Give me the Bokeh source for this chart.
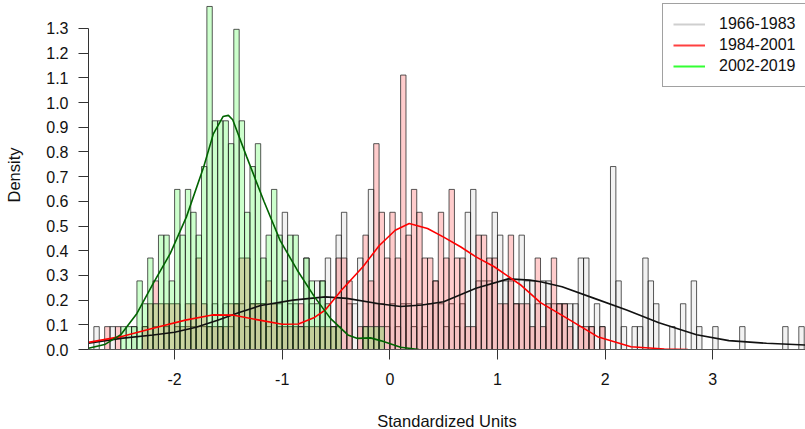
import numpy as np
from bokeh.plotting import figure
from bokeh.models import (Range1d, FixedTicker, ColumnDataSource, Legend, LegendItem,
                          NumeralTickFormatter, CustomJSTickFormatter)
from bokeh.embed import file_html
from bokeh.resources import INLINE

# ---------------- data ----------------
bin_start = -2.8
bin_width = 0.05
n_obs = 216  # months per period

series_names = ["1966-1983", "1984-2001", "2002-2019"]

# counts per 0.05-wide bin, first bin starts at -2.80
counts_1966_1983 = [
    0, 1, 0, 0, 1, 0,
    0, 0, 1, 0, 1, 0, 1, 0, 1, 0, 1, 0, 1, 1, 1,
    1, 1, 2, 1, 2, 1, 2, 2, 1, 2, 2, 2, 1, 2, 2,
    6, 2, 2, 1, 4, 2, 3, 3, 4, 1, 5, 6, 2, 2, 4, 1, 7, 2, 2, 1,
    2, 1, 2, 2, 1, 2, 1, 2, 3, 2, 1, 2, 1, 2, 6, 7, 3, 3, 3, 6, 5, 3, 3, 2, 5,
    3, 3, 2, 3, 3, 2, 2, 2, 2, 2, 4, 4, 1, 2, 1, 0,
    8, 3, 1, 0, 1, 1, 4, 3, 2, 0, 0, 1, 0, 2, 0, 3, 1, 0, 0, 1, 0, 0, 0, 0,
    1, 0, 0, 0, 0, 0, 0, 0, 1, 0, 0, 1,
]
counts_1984_2001 = [
    0, 0, 0, 1, 0, 1,
    0, 0, 0, 0, 1, 2, 3, 2, 2, 2, 2, 1, 2, 2, 4,
    2, 1, 1, 1, 1, 2, 2, 4, 4, 2, 2, 2, 3, 2, 1,
    1, 1, 1, 2, 1, 1, 1, 1, 1, 1, 4, 4, 3, 0, 1, 5, 3, 9, 6, 4,
    6, 4, 12, 5, 7, 6, 4, 4, 3, 6, 4, 7, 4, 4, 1, 1, 5, 5, 4, 4, 2, 2, 5, 2, 2,
    2, 1, 4, 1, 2, 4, 2, 2, 1, 0, 1, 1, 1, 0, 1, 0,
]
counts_2002_2019 = [
    0, 0, 0, 0, 0, 0,
    1, 1, 1, 3, 2, 4, 2, 5, 5, 3,
    7, 5, 7, 6, 5, 8, 15, 10, 10, 10,
    9, 14, 10, 6, 8, 9, 4, 5, 7, 5,
    3, 5, 5, 1, 4, 3, 2, 3, 2, 1, 1, 0, 0, 0, 0, 1, 1, 1, 1,
]

# density curves
dens_x_1966_1983 = [-2.8, -2.5, -2.2, -2.0, -1.8, -1.6, -1.4, -1.2, -0.9, -0.6, -0.4, -0.1,
                    0.1, 0.3, 0.5, 0.8, 1.1, 1.3, 1.4, 1.6, 1.9, 2.2, 2.5, 2.85, 3.15, 3.5, 3.86]
dens_y_1966_1983 = [0.025, 0.045, 0.059, 0.07, 0.09, 0.118, 0.15, 0.178, 0.2, 0.213, 0.207, 0.185,
                    0.174, 0.18, 0.193, 0.248, 0.286, 0.281, 0.274, 0.254, 0.207, 0.16, 0.108, 0.06, 0.036, 0.025, 0.018]

dens_x_1984_2001 = [-2.8, -2.5, -2.2, -1.9, -1.65, -1.45, -1.2, -1.0, -0.85, -0.7, -0.6, -0.45, -0.25,
                    -0.1, 0.05, 0.18, 0.35, 0.5, 0.66, 0.8, 0.97, 1.22, 1.4, 1.62, 1.93, 2.24, 2.55, 2.77]
dens_y_1984_2001 = [0.029, 0.052, 0.086, 0.119, 0.14, 0.139, 0.118, 0.102, 0.103, 0.13, 0.16, 0.24, 0.335,
                    0.42, 0.483, 0.51, 0.49, 0.455, 0.415, 0.375, 0.335, 0.26, 0.19, 0.133, 0.052, 0.011, 0.002, 0.0]

dens_x_2002_2019 = [-2.8, -2.65, -2.5, -2.35, -2.2, -2.04, -1.89, -1.73, -1.64, -1.55, -1.5, -1.46, -1.33,
                    -1.17, -1.02, -0.86, -0.7, -0.55, -0.39, -0.3, -0.18, -0.08, 0.1, 0.27]
dens_y_2002_2019 = [0.005, 0.02, 0.06, 0.146, 0.267, 0.389, 0.537, 0.739, 0.873, 0.943, 0.948, 0.93, 0.78,
                    0.6, 0.442, 0.321, 0.213, 0.125, 0.059, 0.045, 0.047, 0.035, 0.009, 0.0]

y_ticks = [0.0, 0.1, 0.2, 0.3, 0.4, 0.5, 0.6, 0.7, 0.8, 0.9, 1.0, 1.1, 1.2, 1.3]
x_ticks = [-2, -1, 0, 1, 2, 3]

# ---------------- plot ----------------
FONT = "Liberation Sans"
FS = "16px"
FS_TITLE = "16.5px"

p = figure(width=805, height=432, x_range=Range1d(-2.8, 3.862), y_range=Range1d(0, 1.413),
           output_backend="svg", toolbar_location=None,
           min_border_left=88, min_border_right=0, min_border_top=0, min_border_bottom=0)
p.outline_line_color = None
p.grid.visible = False
p.background_fill_color = "white"
p.border_fill_color = "white"


def hist_source(counts):
    c = np.asarray(counts, dtype=float)
    idx = np.arange(len(c))
    left = bin_start + idx * bin_width
    keep = c > 0
    return ColumnDataSource(dict(left=left[keep], right=left[keep] + bin_width,
                                 top=c[keep] / (n_obs * bin_width)))


fills = ["#bebebe", "#ff0000", "#00ff00"]
for counts, fc in zip([counts_1966_1983, counts_1984_2001, counts_2002_2019], fills):
    p.quad(left="left", right="right", top="top", bottom=0, source=hist_source(counts),
           fill_color=fc, fill_alpha=0.2, line_color="#222222", line_alpha=0.75, line_width=1)

p.line(dens_x_1966_1983, dens_y_1966_1983, line_color="#111111", line_width=1.6)
p.line(dens_x_1984_2001, dens_y_1984_2001, line_color="#ff0000", line_width=1.6)
p.line(dens_x_2002_2019, dens_y_2002_2019, line_color="#006400", line_width=1.6)

# legend renderers (line samples kept outside the visible range)
leg_colors = ["#cfcfcf", "#ff4040", "#33ff33"]
items = []
for name, col in zip(series_names, leg_colors):
    r = p.line([-10, -9], [-1, -1], line_color=col, line_width=2)
    items.append(LegendItem(label=name, renderers=[r]))
legend = Legend(items=items, location=(574, 262), orientation="vertical",
                padding=10, margin=0, spacing=1, glyph_width=32, glyph_height=20,
                label_height=20, label_standoff=14,
                label_text_font=FONT, label_text_font_size=FS, label_text_color="#111111",
                border_line_color="#444444", border_line_width=1,
                background_fill_color="white", background_fill_alpha=1.0)
p.add_layout(legend, "center")

# axes
yax = p.yaxis[0]
yax.ticker = FixedTicker(ticks=y_ticks)
yax.formatter = NumeralTickFormatter(format="0.0")
yax.bounds = (0, 1.3)
yax.minor_tick_line_color = None
yax.major_tick_out = 10
yax.major_tick_in = 0
yax.major_label_standoff = 10
yax.axis_line_color = "#333333"
yax.major_tick_line_color = "#333333"
yax.major_label_text_font = FONT
yax.major_label_text_font_size = FS
yax.major_label_text_color = "#111111"
yax.axis_label = "Density"
yax.axis_label_text_font = FONT
yax.axis_label_text_font_size = FS_TITLE
yax.axis_label_text_font_style = "normal"
yax.axis_label_text_color = "#111111"
yax.axis_label_standoff = 20

xax = p.xaxis[0]
xax.ticker = FixedTicker(ticks=x_ticks)
xax.formatter = CustomJSTickFormatter(code="return tick.toFixed(0);")
xax.minor_tick_line_color = None
xax.major_tick_out = 10
xax.major_tick_in = 0
xax.major_label_standoff = 13
xax.axis_line_color = "#555555"
xax.major_tick_line_color = "#333333"
xax.major_label_text_font = FONT
xax.major_label_text_font_size = FS
xax.major_label_text_color = "#111111"
xax.axis_label = "Standardized Units"
xax.axis_label_text_font = FONT
xax.axis_label_text_font_size = FS_TITLE
xax.axis_label_text_font_style = "normal"
xax.axis_label_text_color = "#111111"
xax.axis_label_standoff = 24

open("out.html", "w").write(file_html(p, INLINE))
